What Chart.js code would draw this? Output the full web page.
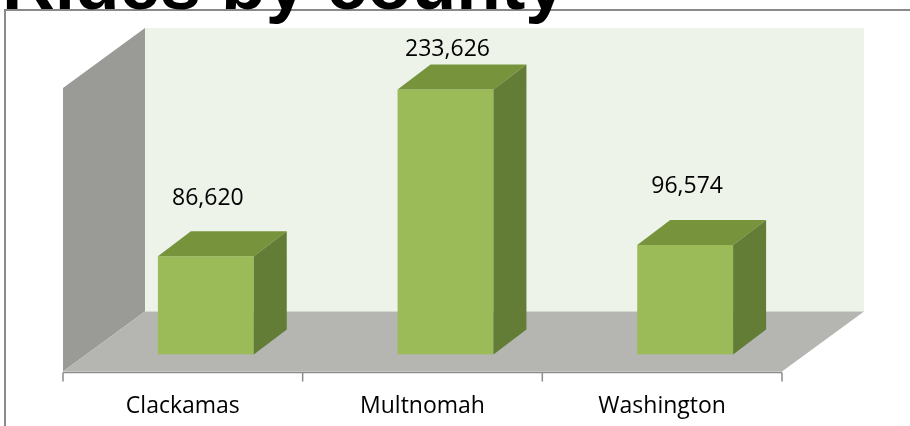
<!DOCTYPE html>
<html>
<head>
<meta charset="utf-8">
<title>Rides by county</title>
<script src="https://cdn.jsdelivr.net/npm/chart.js@4.4.1/dist/chart.umd.min.js"></script>
<style>
  html, body { margin: 0; padding: 0; background: #fff; }
  #wrap { position: relative; width: 910px; height: 426px; overflow: hidden; }
  #frame { position: absolute; left: 4px; top: 9px; width: 1000px; height: 1000px; border: 2px solid #8a8a8a; }
  #chart { position: absolute; left: 0; top: 0; }
  #title { position: absolute; left: 2px; top: -52px; font: bold 73px/72px "Liberation Sans", sans-serif; white-space: nowrap; color: #000; }
</style>
</head>
<body>
<div id="wrap">
  <div id="frame"></div>
  <canvas id="chart" width="910" height="426"></canvas>
  <div id="title">Rides by county</div>
</div>
<script>
// data
const counties = ['Clackamas', 'Multnomah', 'Washington'];
const rides = [86620, 233626, 96574];
const axisMax = 250000;

// 3d look: offsets from the bar front plane (chart area)
const FRONT = { dx: -23, dy: 17 };   // front edge of floor / walls
const BACK = { dx: 59, dy: -43 };    // back wall
const BAR_DEPTH = { dx: 33, dy: -25 };

function poly(ctx, pts, fill) {
  ctx.beginPath();
  pts.forEach(([x, y], i) => i ? ctx.lineTo(x, y) : ctx.moveTo(x, y));
  ctx.closePath();
  ctx.fillStyle = fill;
  ctx.fill();
}

const box3d = {
  id: 'box3d',
  beforeDatasetsDraw(chart) {
    const { ctx, chartArea: a, scales: { x } } = chart;
    const L = a.left, R = a.right, T = a.top, B = a.bottom;
    ctx.save();
    // back wall
    poly(ctx, [[L + BACK.dx, T + BACK.dy], [R + BACK.dx, T + BACK.dy], [R + BACK.dx, B + BACK.dy], [L + BACK.dx, B + BACK.dy]], '#eef3e9');
    // left wall
    poly(ctx, [[L + FRONT.dx, T + FRONT.dy], [L + BACK.dx, T + BACK.dy], [L + BACK.dx, B + BACK.dy], [L + FRONT.dx, B + FRONT.dy]], '#9a9b96');
    // floor
    poly(ctx, [[L + FRONT.dx, B + FRONT.dy], [L + BACK.dx, B + BACK.dy], [R + BACK.dx, B + BACK.dy], [R + FRONT.dx, B + FRONT.dy]], '#b5b6b2');

    // axis line + ticks between categories
    const half = (x.getPixelForValue(1) - x.getPixelForValue(0)) / 2;
    const yAxis = B + FRONT.dy + 1;
    ctx.strokeStyle = '#8c8c8c';
    ctx.lineWidth = 1.5;
    ctx.beginPath();
    ctx.moveTo(L + FRONT.dx, yAxis);
    ctx.lineTo(R + FRONT.dx, yAxis);
    for (let i = 0; i <= counties.length; i++) {
      const tx = x.getPixelForValue(i) - half + FRONT.dx;
      ctx.moveTo(tx, yAxis);
      ctx.lineTo(tx, yAxis + 9);
    }
    ctx.stroke();
    ctx.restore();
  },
  afterDatasetsDraw(chart) {
    const { ctx, chartArea: a } = chart;
    const meta = chart.getDatasetMeta(0);
    ctx.save();
    meta.data.forEach((bar, i) => {
      const l = bar.x - bar.width / 2, r = bar.x + bar.width / 2;
      const top = bar.y, base = bar.base;
      const dx = BAR_DEPTH.dx, dy = BAR_DEPTH.dy;
      // top face
      poly(ctx, [[l, top], [l + dx, top + dy], [r + dx, top + dy], [r, top]], '#77933c');
      // side face
      poly(ctx, [[r, top], [r + dx, top + dy], [r + dx, base + dy], [r, base]], '#637d37');
      // value label
      ctx.fillStyle = '#000';
      ctx.font = '23px "Open Sans", sans-serif';
      ctx.textAlign = 'center';
      ctx.textBaseline = 'middle';
      ctx.fillText(rides[i].toLocaleString('en-US'), bar.x + 2, Math.max(top - 58, a.top - 22));
    });
    ctx.restore();
  }
};

new Chart(document.getElementById('chart'), {
  type: 'bar',
  data: {
    labels: counties,
    datasets: [{
      label: 'Rides',
      data: rides,
      backgroundColor: '#9bbb59',
      borderWidth: 0,
      barPercentage: 0.4,
      categoryPercentage: 1
    }]
  },
  options: {
    responsive: false,
    animation: false,
    layout: { padding: { left: 86, right: 105, top: 71, bottom: -32 } },
    scales: {
      x: {
        grid: { display: false, drawTicks: false },
        border: { display: false },
        ticks: {
          color: '#000',
          font: { family: '"Open Sans", sans-serif', size: 23 },
          padding: 38,
          labelOffset: -23
        }
      },
      y: { display: false, min: 0, max: axisMax }
    },
    plugins: {
      legend: { display: false },
      tooltip: { enabled: false }
    }
  },
  plugins: [box3d]
});
</script>
</body>
</html>
